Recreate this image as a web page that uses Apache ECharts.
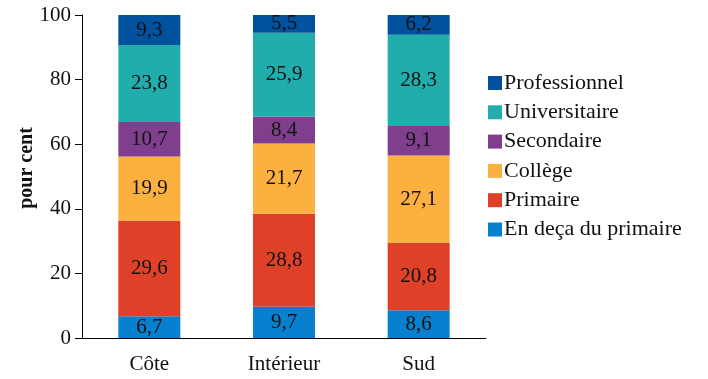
<!DOCTYPE html>
<html><head><meta charset="utf-8">
<script src="https://cdn.jsdelivr.net/npm/echarts@6/dist/echarts.min.js"></script>
<style>html,body{margin:0;padding:0;background:#fff}#c{width:708px;height:379px}</style>
</head><body><div id="c"></div>
<script>
const categories = ['Côte', 'Intérieur', 'Sud'];
const seriesNames = ['En deça du primaire', 'Primaire', 'Collège', 'Secondaire', 'Universitaire', 'Professionnel'];
const enDeca = [6.7, 9.7, 8.6];
const primaire = [29.6, 28.8, 20.8];
const college = [19.9, 21.7, 27.1];
const secondaire = [10.7, 8.4, 9.1];
const universitaire = [23.8, 25.9, 28.3];
const professionnel = [9.3, 5.5, 6.2];
const yTicks = [0, 20, 40, 60, 80, 100];
const colors = ['#0780cf', '#de4128', '#fbb040', '#803f8c', '#22adad', '#00519e'];

const values = [enDeca, primaire, college, secondaire, universitaire, professionnel];
const FONT = 'Liberation Serif';
const chart = echarts.init(document.getElementById('c'));
chart.setOption({
  animation: false,
  textStyle: { fontFamily: FONT },
  grid: { left: 82, right: 222, top: 15, bottom: 41 },
  legend: {
    data: seriesNames.slice().reverse(),
    orient: 'vertical',
    left: 483, top: 67,
    icon: 'rect', itemWidth: 14, itemHeight: 14, itemGap: 7.3,
    textStyle: { fontFamily: FONT, fontSize: 22, color: '#111', lineHeight: 20, padding: [0, 0, 0, -3] }
  },
  xAxis: {
    type: 'category', data: categories,
    axisLine: { lineStyle: { color: '#000', width: 1 } },
    axisTick: { length: 7, lineStyle: { color: '#000' } },
    axisLabel: { color: '#111', fontSize: 21, fontFamily: FONT, margin: 16 }
  },
  yAxis: {
    type: 'value', min: 0, max: 100, interval: 20,
    axisLine: { show: true, lineStyle: { color: '#000', width: 1 } },
    axisTick: { show: true, length: 7, lineStyle: { color: '#000' } },
    splitLine: { show: false },
    axisLabel: { color: '#111', fontSize: 21, fontFamily: FONT, margin: 11,
      formatter: v => yTicks.includes(v) ? String(v) : '' }
  },
  graphic: [{
    type: 'text', x: 27, y: 168, rotation: Math.PI / 2,
    style: { text: 'pour cent', fontFamily: FONT, fontWeight: 'bold', fontSize: 20,
      fill: '#111', align: 'center', verticalAlign: 'middle' }
  }],
  series: seriesNames.map((name, i) => ({
    name, type: 'bar', stack: 'total', barWidth: 62,
    data: values[i],
    itemStyle: { color: colors[i] },
    label: { show: true, position: 'inside', color: '#111', fontFamily: FONT, fontSize: 21,
      formatter: p => String(p.value).replace('.', ',') }
  }))
});
</script></body></html>
